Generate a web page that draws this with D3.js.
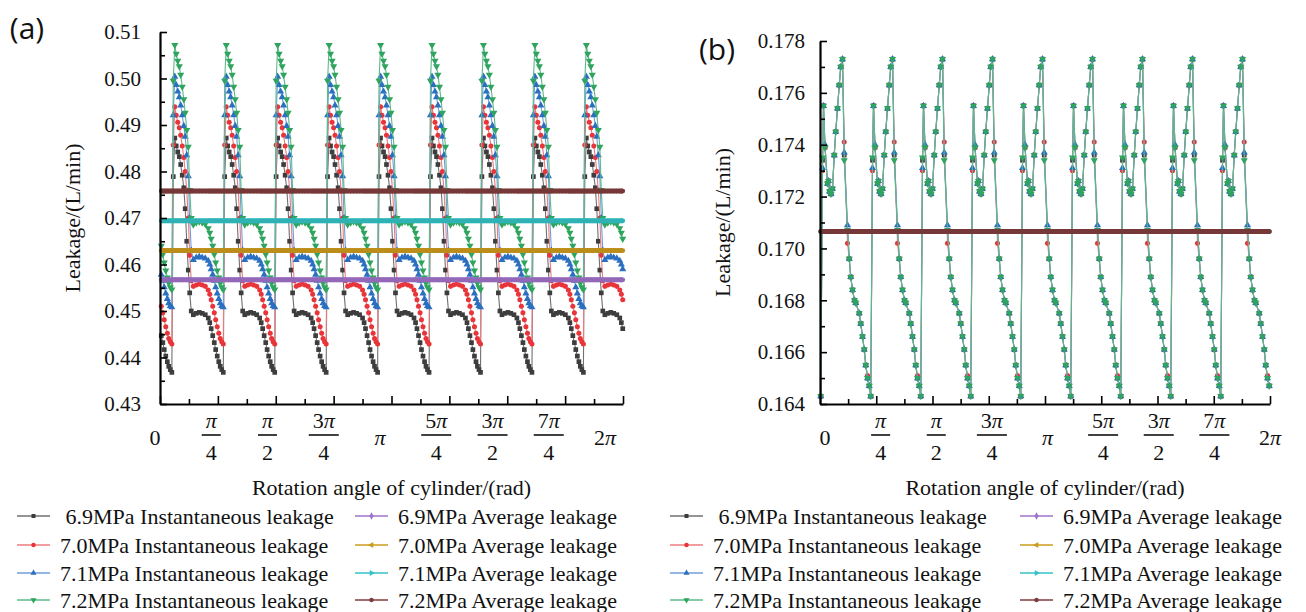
<!DOCTYPE html>
<html>
<head>
<meta charset="utf-8">
<script src="https://cdn.jsdelivr.net/npm/d3@7"></script>
<style>
  body { margin: 0; background: #fff; }
  text { font-family: "Liberation Serif", "DejaVu Serif", serif; fill: #111; }
</style>
</head>
<body>
<svg id="chart" width="1306" height="612"></svg>
<script>
// ---- data ----
// 9 pistons -> the leakage repeats every 40 degrees of cylinder rotation
const cycleLength = 40;

// (a) angle (deg) inside one cycle where the points sit, and the read leakage values
const cycleStartA = 10.3;
const cycleDegA = [0, 1.2, 2.3, 3.5, 4.7, 5.8, 7, 8.2, 9.3, 10.5, 11.7, 12.8, 14,
  15.6, 17.9, 20.2, 22.5, 24.9, 27.2, 28.4, 29.5, 30.7, 31.9, 33, 34.2, 35.4, 36.5, 37.7, 38.9];
const instA69 = [0.4789, 0.4872, 0.4855, 0.4842, 0.4832, 0.4815, 0.4792, 0.4765, 0.4720, 0.4650, 0.4588, 0.4539, 0.4500,
  0.4492, 0.4495, 0.4497, 0.4495, 0.4492, 0.4485, 0.4475, 0.4462, 0.4447, 0.4432, 0.4417, 0.4403, 0.4391, 0.4381, 0.4374, 0.4368];
const instA70 = [0.4857, 0.4939, 0.4921, 0.4906, 0.4894, 0.4878, 0.4855, 0.4830, 0.4800, 0.4760, 0.4700, 0.4620, 0.4565,
  0.4553, 0.4556, 0.4558, 0.4556, 0.4553, 0.4545, 0.4536, 0.4524, 0.4510, 0.4496, 0.4481, 0.4466, 0.4452, 0.4441, 0.4434, 0.4429];
const instA71 = [0.4921, 0.5004, 0.4986, 0.4972, 0.4960, 0.4942, 0.4921, 0.4898, 0.4875, 0.4835, 0.4790, 0.4700, 0.4630,
  0.4610, 0.4615, 0.4617, 0.4615, 0.4613, 0.4608, 0.4600, 0.4590, 0.4578, 0.4565, 0.4551, 0.4538, 0.4526, 0.4517, 0.4511, 0.4508];
const instA72 = [0.4995, 0.5072, 0.5053, 0.5038, 0.5026, 0.5008, 0.4982, 0.4955, 0.4926, 0.4889, 0.4853, 0.4760, 0.4700,
  0.4686, 0.4690, 0.4692, 0.4690, 0.4687, 0.4678, 0.4668, 0.4655, 0.4640, 0.4622, 0.4604, 0.4587, 0.4572, 0.4560, 0.4551, 0.4546];
const avgA = [0.4567, 0.4630, 0.4694, 0.4758];
const yTicksA = [0.43, 0.44, 0.45, 0.46, 0.47, 0.48, 0.49, 0.50, 0.51];

// (b)
const cycleStartB = 2.0;
const cycleDegB = [0, 0.8, 2.0, 4.0, 4.8, 5.6, 6.8, 8.0, 9.4, 10.6, 12.0, 13.4, 14.6, 16.0, 17.4,
  20.0, 21.4, 22.6, 24.0, 25.6, 26.6, 29.4, 30.6, 32.0, 33.4, 34.6, 36.0, 37.4, 38.6];
const instB69 = [0.1734, 0.1755, 0.1739, 0.1725, 0.1726, 0.1722, 0.1721, 0.1723, 0.1736, 0.1745, 0.1754, 0.1763, 0.1770, 0.1773, 0.1736,
  0.1707, 0.1696, 0.1689, 0.1684, 0.1680, 0.1679, 0.1675, 0.1671, 0.1666, 0.1661, 0.1655, 0.1650, 0.1647, 0.1643];
const instB70 = [0.1730, 0.1755, 0.1739, 0.1725, 0.1726, 0.1722, 0.1721, 0.1723, 0.1736, 0.1745, 0.1754, 0.1763, 0.1770, 0.1773, 0.1741,
  0.1702, 0.1696, 0.1689, 0.1684, 0.1680, 0.1679, 0.1675, 0.1671, 0.1666, 0.1661, 0.1655, 0.1651, 0.1647, 0.1643];
const instB71 = [0.1731, 0.1755, 0.1740, 0.1725, 0.1726, 0.1722, 0.1721, 0.1723, 0.1736, 0.1745, 0.1754, 0.1763, 0.1770, 0.1773, 0.1737,
  0.1709, 0.1696, 0.1689, 0.1684, 0.1680, 0.1679, 0.1675, 0.1671, 0.1666, 0.1661, 0.1655, 0.1650, 0.1647, 0.1643];
const instB72 = [0.1735, 0.1755, 0.1739, 0.1725, 0.1726, 0.1722, 0.1721, 0.1723, 0.1736, 0.1745, 0.1754, 0.1763, 0.1770, 0.1773, 0.1734,
  0.1707, 0.1696, 0.1689, 0.1684, 0.1680, 0.1679, 0.1675, 0.1671, 0.1666, 0.1661, 0.1655, 0.1650, 0.1647, 0.1643];
const avgB = [0.17065, 0.17065, 0.17065, 0.17065];
const yTicksB = [0.164, 0.166, 0.168, 0.170, 0.172, 0.174, 0.176, 0.178];

const xTickNum = ['0', 'π', 'π', '3π', 'π', '5π', '3π', '7π', '2π'];
const xTickDen = ['', '4', '2', '4', '', '4', '2', '4', ''];
const instLabels = [' 6.9MPa Instantaneous leakage', '7.0MPa Instantaneous leakage',
  '7.1MPa Instantaneous leakage', '7.2MPa Instantaneous leakage'];
const avgLabels = ['6.9MPa Average leakage', '7.0MPa Average leakage',
  '7.1MPa Average leakage', '7.2MPa Average leakage'];

// ---- styles ----
const instColors = ['#3d3d3d', '#e8353a', '#2a6fc0', '#2ea45e'];
const instLines = ['#707070', '#ec7b7e', '#6c9fd8', '#5fb88a'];
const avgColors = ['#a172c9', '#cc9a1e', '#35c3c6', '#813d3d'];
const instShapes = [d3.symbolSquare, d3.symbolCircle, d3.symbolTriangle, d3.symbolTriangle];
const instRot = ['', '', '', ' rotate(180)'];
const avgShapes = [d3.symbolDiamond, d3.symbolTriangle, d3.symbolTriangle, d3.symbolCircle];
const avgRot = ['', ' rotate(-90)', ' rotate(90)', ''];

const svg = d3.select('#chart');

// place the read cycle values at every cycle of the revolution
function cycleSeries(startDeg, cycleDeg, values) {
  const pts = [];
  for (let k = -1; k < 9; k++) {
    cycleDeg.forEach((d, i) => {
      const a = startDeg + k * cycleLength + d;
      if (a >= 0 && a <= 360) pts.push({ x: a * Math.PI / 180, y: values[i] });
    });
  }
  return pts;
}

function piText(sel, str) {
  const parts = str.split('π');
  if (parts[0]) sel.append('tspan').text(parts[0]);
  if (str.includes('π')) sel.append('tspan').attr('font-style', 'italic').text('π');
}

function drawPanel(p) {
  const x = d3.scaleLinear().domain([0, 2 * Math.PI]).range([p.left, p.right]);
  const y = d3.scaleLinear().domain(p.yDomain).range([p.bottom, p.top]);
  const xl = d3.scaleLinear().domain([0, 2 * Math.PI]).range(p.labelRange);
  const g = svg.append('g');
  const line = d3.line().x(d => x(d.x)).y(d => y(d.y));

  // instantaneous leakage
  p.inst.forEach((vals, s) => {
    const pts = cycleSeries(p.start, p.cycle, vals);
    g.append('path').datum(pts)
      .attr('d', line)
      .attr('fill', 'none')
      .attr('stroke', instLines[s])
      .attr('stroke-width', 1.1);
    g.append('g').selectAll('path')
      .data(pts)
      .join('path')
      .attr('transform', d => `translate(${x(d.x)},${y(d.y)})${instRot[s]}`)
      .attr('d', d3.symbol(instShapes[s], s === 1 ? 20 : 22))
      .attr('fill', instColors[s]);
  });

  // average leakage (dense markers form a thick band)
  const xs = cycleSeries(p.start, p.cycle, p.cycle.map(() => 0)).map(d => d.x);
  p.avg.forEach((v, s) => {
    g.append('path').datum([0, 2 * Math.PI])
      .attr('d', d3.line().x(d => x(d)).y(() => y(v)))
      .attr('stroke', avgColors[s])
      .attr('stroke-width', 5);
    g.append('g').selectAll('circle')
      .data(xs)
      .join('circle')
      .attr('cx', d => x(d))
      .attr('cy', y(v))
      .attr('r', 2.4)
      .attr('fill', d3.color(avgColors[s]).darker(0.25));
  });

  // y axis
  const yMinor = d3.range(p.yTicks.length - 1).map(i => (p.yTicks[i] + p.yTicks[i + 1]) / 2);
  const yAx = g.append('g').attr('transform', `translate(${p.left},0)`)
    .call(d3.axisLeft(y).tickValues(p.yTicks).tickSizeInner(-7).tickSizeOuter(0)
      .tickPadding(p.yPad).tickFormat(d3.format(p.yFmt)));
  g.append('g').attr('transform', `translate(${p.left},0)`)
    .call(d3.axisLeft(y).tickValues(yMinor).tickSizeInner(-5).tickSizeOuter(0).tickFormat(''))
    .select('.domain').remove();

  // x axis
  const xMajor = d3.range(9).map(i => i * Math.PI / 4);
  const xMinor = d3.range(8).map(i => (2 * i + 1) * Math.PI / 8);
  g.append('g').attr('transform', `translate(0,${p.bottom})`)
    .call(d3.axisBottom(x).tickValues(xMajor).tickSizeInner(-8).tickSizeOuter(0).tickFormat(''));
  g.append('g').attr('transform', `translate(0,${p.bottom})`)
    .call(d3.axisBottom(x).tickValues(xMinor).tickSizeInner(-5).tickSizeOuter(0).tickFormat(''))
    .select('.domain').remove();
  yAx.raise();

  g.selectAll('.domain').attr('stroke', '#000').attr('stroke-width', 2.2);
  g.selectAll('.tick line').attr('stroke', '#000').attr('stroke-width', 1.6);
  yAx.selectAll('text')
    .attr('font-family', '"Liberation Serif", serif')
    .attr('font-size', 21)
    .attr('fill', '#111');

  // x tick labels with fractions
  xMajor.forEach((a, i) => {
    const cx = xl(a);
    if (xTickDen[i]) {
      const num = g.append('text').attr('x', cx).attr('y', p.bottom + 24)
        .attr('text-anchor', 'middle').attr('font-size', 22);
      piText(num, xTickNum[i]);
      const w = num.node().getComputedTextLength() + 8;
      g.append('line').attr('x1', cx - w / 2).attr('x2', cx + w / 2)
        .attr('y1', p.bottom + 31).attr('y2', p.bottom + 31)
        .attr('stroke', '#111').attr('stroke-width', 1.6);
      g.append('text').attr('x', cx).attr('y', p.bottom + 56)
        .attr('text-anchor', 'middle').attr('font-size', 22).text(xTickDen[i]);
    } else {
      const t = g.append('text').attr('x', cx).attr('y', p.bottom + 41)
        .attr('text-anchor', 'middle').attr('font-size', 22);
      piText(t, xTickNum[i]);
    }
  });

  // titles
  g.append('text')
    .attr('transform', `translate(${p.yTitleX},${(p.top + p.bottom) / 2}) rotate(-90)`)
    .attr('text-anchor', 'middle').attr('dominant-baseline', 'central')
    .attr('font-size', 22).text('Leakage/(L/min)');
  g.append('text')
    .attr('x', (p.left + p.right) / 2).attr('y', p.bottom + 83)
    .attr('text-anchor', 'middle').attr('dominant-baseline', 'central')
    .attr('font-size', 22)
    .text('Rotation angle of cylinder/(rad)');
  g.append('text')
    .attr('x', p.tagX).attr('y', p.tagY)
    .attr('text-anchor', 'middle').attr('dominant-baseline', 'central')
    .style('font-family', '"Open Sans", sans-serif').attr('font-size', 30)
    .text(p.tag);

  // legend
  const cols = [
    { x0: p.legendX[0], labels: instLabels, colors: instLines, marks: instColors, shapes: instShapes, rot: instRot },
    { x0: p.legendX[1], labels: avgLabels, colors: avgColors, marks: avgColors, shapes: avgShapes, rot: avgRot }
  ];
  cols.forEach(c => {
    c.labels.forEach((lab, i) => {
      const ly = p.legendY[i];
      g.append('line').attr('x1', c.x0).attr('x2', c.x0 + 33)
        .attr('y1', ly).attr('y2', ly)
        .attr('stroke', c.colors[i]).attr('stroke-width', 1.4);
      g.append('path')
        .attr('transform', `translate(${c.x0 + 16.5},${ly})${c.rot[i]}`)
        .attr('d', d3.symbol(c.shapes[i], 16))
        .attr('fill', c.marks[i]);
      g.append('text')
        .attr('x', c.x0 + 43).attr('y', ly)
        .attr('dominant-baseline', 'central')
        .style('white-space', 'pre')
        .attr('font-size', 22).text(lab);
    });
  });
}

const legendY = [516, 545, 573, 600];

drawPanel({
  tag: '(a)', tagX: 27, tagY: 27,
  left: 160, right: 623, top: 32, bottom: 404,
  yDomain: [0.43, 0.51], yTicks: yTicksA, yFmt: '.2f', yPad: 19,
  labelRange: [155, 605], yTitleX: 72,
  start: cycleStartA, cycle: cycleDegA,
  inst: [instA69, instA70, instA71, instA72], avg: avgA,
  legendX: [17, 355], legendY: legendY
});

drawPanel({
  tag: '(b)', tagX: 717, tagY: 48,
  left: 820, right: 1270, top: 41, bottom: 404,
  yDomain: [0.164, 0.178], yTicks: yTicksB, yFmt: '.3f', yPad: 15,
  labelRange: [825, 1270], yTitleX: 722,
  start: cycleStartB, cycle: cycleDegB,
  inst: [instB69, instB70, instB71, instB72], avg: avgB,
  legendX: [670, 1020], legendY: legendY
});
</script>
</body>
</html>
